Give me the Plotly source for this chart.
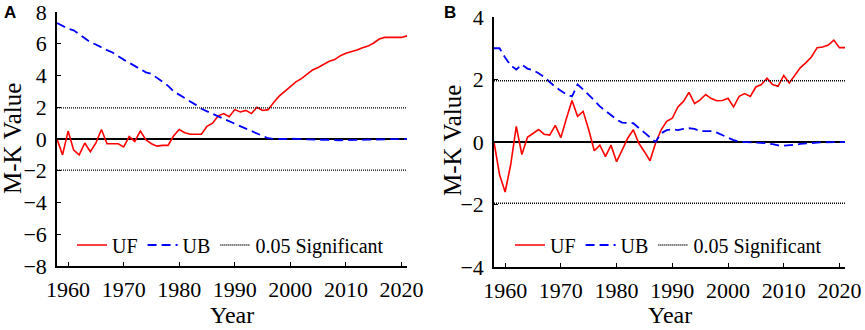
import plotly.graph_objects as go

years = list(range(1958, 2022))

uf_a = [0.0, -1.0, 0.5, -0.7, -1.0, -0.25, -0.8, -0.25, 0.6, -0.3,
        -0.3, -0.3, -0.5, 0.15, -0.15, 0.5, -0.05, -0.3, -0.45, -0.4,
        -0.4, 0.2, 0.6, 0.4, 0.3, 0.3, 0.3, 0.8, 1.0, 1.45,
        1.6, 1.4, 1.85, 1.7, 1.8, 1.6, 2.0, 1.8, 1.85, 2.3,
        2.7, 3.0, 3.3, 3.6, 3.8, 4.1, 4.35, 4.5, 4.7, 4.9,
        5.0, 5.25, 5.4, 5.5, 5.6, 5.75, 5.85, 6.05, 6.3, 6.4,
        6.4, 6.4, 6.4, 6.5]
ub_a = [7.3, 7.1, 6.95, 6.85, 6.6, 6.35, 6.1, 5.95, 5.75, 5.6,
        5.45, 5.2, 5.0, 4.8, 4.6, 4.4, 4.2, 4.1, 3.85, 3.6,
        3.35, 3.0, 2.8, 2.6, 2.4, 2.15, 1.9, 1.75, 1.55, 1.4,
        1.25, 1.1, 0.95, 0.8, 0.65, 0.5, 0.35, 0.2, 0.05, 0.0,
        -0.02, 0.0, 0.02, 0.0, -0.02, -0.03, -0.05, -0.05, -0.04, -0.06,
        -0.08, -0.08, -0.07, -0.05, -0.06, -0.05, -0.04, -0.03, 0.0, 0.0,
        0.0, 0.0, 0.0, 0.0]
uf_b = [0.0, -1.05, -1.6, -0.72, 0.5, -0.4, 0.15, 0.28, 0.4, 0.25,
        0.22, 0.53, 0.14, 0.75, 1.33, 0.82, 0.98, 0.39, -0.28, -0.1,
        -0.47, -0.1, -0.63, -0.26, 0.12, 0.39, -0.04, -0.31, -0.6, -0.04,
        0.39, 0.66, 0.76, 1.12, 1.3, 1.59, 1.23, 1.35, 1.52, 1.39,
        1.32, 1.33, 1.4, 1.12, 1.46, 1.55, 1.46, 1.76, 1.84, 2.04,
        1.84, 1.78, 2.13, 1.89, 2.13, 2.38, 2.54, 2.73, 3.02, 3.04,
        3.1, 3.26, 3.02, 3.02]
ub_b = [3.0, 3.0, 2.7, 2.45, 2.32, 2.48, 2.35, 2.3, 2.2, 2.08,
        1.92, 1.76, 1.64, 1.52, 1.46, 1.84, 1.68, 1.52, 1.33, 1.14,
        0.99, 0.84, 0.72, 0.62, 0.6, 0.6, 0.45, 0.3, 0.17, 0.0,
        0.28, 0.38, 0.41, 0.38, 0.42, 0.44, 0.42, 0.35, 0.35, 0.35,
        0.3, 0.22, 0.14, 0.06, 0.01, 0.0, 0.0, -0.01, -0.02, -0.04,
        -0.07, -0.11, -0.12, -0.11, -0.09, -0.06, -0.04, -0.03, -0.02, -0.01,
        0.0, 0.0, 0.0, 0.0]
sig_level = 1.96

x_ticks = [1960, 1970, 1980, 1990, 2000, 2010, 2020]
y_ticks_a = [-8, -6, -4, -2, 0, 2, 4, 6, 8]
y_ticks_b = [-4, -2, 0, 2, 4]
x_title = "Year"
y_title = "M-K Value"
panel_labels = ["A", "B"]

SERIF = "Liberation Serif"
W, H = 865, 330

fig = go.Figure()

panels = [
    ("x", "y", "legend", uf_a, ub_a),
    ("x2", "y2", "legend2", uf_b, ub_b),
]
for xa, ya, lg, uf, ub in panels:
    fig.add_trace(go.Scatter(x=years, y=uf, mode="lines", name="UF",
                             line=dict(color="#ff0000", width=1.6),
                             xaxis=xa, yaxis=ya, legend=lg))
    fig.add_trace(go.Scatter(x=years, y=ub, mode="lines", name="UB",
                             line=dict(color="#0000ff", width=1.8, dash="9px,5px"),
                             xaxis=xa, yaxis=ya, legend=lg))
    sig_x = years + [None] + years
    sig_y = [sig_level] * len(years) + [None] + [-sig_level] * len(years)
    fig.add_trace(go.Scatter(x=sig_x, y=sig_y, mode="lines", name="0.05 Significant",
                             line=dict(color="black", width=1.4, dash="1px,1px"),
                             connectgaps=False,
                             xaxis=xa, yaxis=ya, legend=lg))

def make_xaxis(domain, anchor):
    return dict(domain=domain, anchor=anchor, range=[1958, 2021], automargin=False,
                tickvals=x_ticks, ticks="inside", ticklen=4, tickwidth=1,
                tickcolor="black", showline=True, linecolor="black", linewidth=1.5,
                showgrid=False, zeroline=False, mirror=False,
                ticklabeloverflow="allow", ticklabelstandoff=3,
                tickfont=dict(family=SERIF, size=22, color="black"))

def make_yaxis(domain, anchor, rng, tv):
    return dict(domain=domain, anchor=anchor, range=rng, tickvals=tv, automargin=False,
                ticks="inside", ticklen=4, tickwidth=1, tickcolor="black",
                showline=True, linecolor="black", linewidth=1.5,
                showgrid=False, zeroline=True, zerolinecolor="black", zerolinewidth=1.5,
                ticklabeloverflow="allow", ticklabelstandoff=4,
                tickfont=dict(family=SERIF, size=22, color="black"))

def title_ann(text, xpx, ypx, angle=0, size=25):
    return dict(text=text, x=xpx / W, y=1 - ypx / H, xref="paper", yref="paper",
                xanchor="center", yanchor="middle", showarrow=False, textangle=angle,
                font=dict(family=SERIF, size=size, color="black"))

def label_ann(text, xpx, ypx):
    return dict(text="<b>%s</b>" % text, x=xpx / W, y=1 - ypx / H, xref="paper", yref="paper",
                xanchor="left", yanchor="middle", showarrow=False,
                font=dict(family="Liberation Sans", size=17, color="black"))

fig.update_layout(
    template="none",
    width=W, height=H,
    font=dict(family=SERIF, size=20, color="black"),
    margin=dict(l=0, r=0, t=0, b=0, pad=0, autoexpand=False),
    paper_bgcolor="white", plot_bgcolor="white",
    showlegend=True,
    xaxis=make_xaxis([57 / W, 407 / W], "y"),
    yaxis=make_yaxis([1 - 266 / H, 1 - 12 / H], "x", [-8, 8], y_ticks_a),
    xaxis2=make_xaxis([494 / W, 845 / W], "y2"),
    yaxis2=make_yaxis([1 - 267 / H, 1 - 17 / H], "x2", [-4, 4], y_ticks_b),
    legend=dict(orientation="h", x=72 / W, y=1 - 245 / H, xanchor="left", yanchor="middle",
                bgcolor="rgba(0,0,0,0)", font=dict(family=SERIF, size=20, color="black"),
                itemwidth=30, tracegroupgap=0, borderwidth=0),
    legend2=dict(orientation="h", x=510 / W, y=1 - 245 / H, xanchor="left", yanchor="middle",
                 bgcolor="rgba(0,0,0,0)", font=dict(family=SERIF, size=20, color="black"),
                 itemwidth=30, tracegroupgap=0, borderwidth=0),
    annotations=[
        title_ann(y_title, 13, 139, -90),
        title_ann(y_title, 452, 140, -90),
        title_ann(x_title, 232, 315, size=24),
        title_ann(x_title, 670, 315, size=24),
        label_ann(panel_labels[0], 2, 12),
        label_ann(panel_labels[1], 442, 12),
    ],
)

fig.write_html("out.html", config={"displayModeBar": False},
               post_script="document.body.style.margin='0';")
